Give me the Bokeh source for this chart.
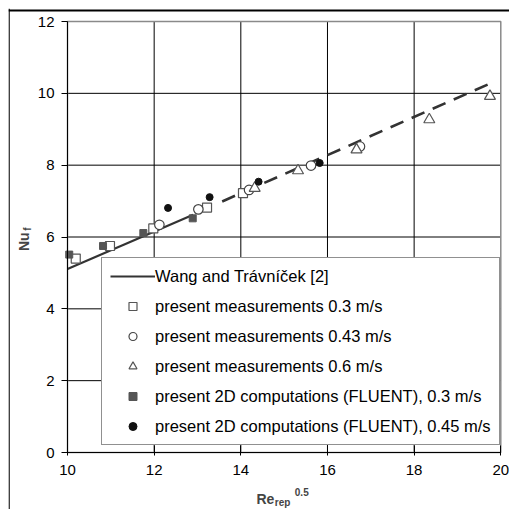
from bokeh.plotting import figure
from bokeh.models import Range1d, FixedTicker, Legend, LegendItem, Label, Span
from bokeh.embed import file_html
from bokeh.resources import INLINE

# axis ticks
x_ticks = [10, 12, 14, 16, 18, 20]
y_ticks = [0, 2, 4, 6, 8, 10, 12]

# Wang and Travnicek correlation (solid) and its extrapolation (dashed)
wang_x = [10.0, 12.9]
wang_y = [5.11, 6.62]
ext_x = [13.57, 19.82]
ext_y = [6.99, 10.31]

# present measurements 0.3 m/s
sq_x = [10.19, 10.98, 11.98, 13.22, 14.05]
sq_y = [5.40, 5.75, 6.24, 6.82, 7.22]
# present measurements 0.43 m/s
ci_x = [12.12, 13.02, 14.19, 15.62, 16.75]
ci_y = [6.34, 6.77, 7.31, 7.99, 8.52]
# present measurements 0.6 m/s
tr_x = [14.32, 15.32, 16.67, 18.35, 19.75]
tr_y = [7.36, 7.85, 8.43, 9.27, 9.92]
# present 2D computations (FLUENT), 0.3 m/s
fs_x = [10.04, 10.82, 11.75, 12.89]
fs_y = [5.51, 5.75, 6.11, 6.52]
# present 2D computations (FLUENT), 0.45 m/s
fc_x = [12.32, 13.28, 14.41, 15.82]
fc_y = [6.81, 7.11, 7.54, 8.06]

legend_labels = [
    "Wang and Trávníček [2]",
    "present measurements 0.3 m/s",
    "present measurements 0.43 m/s",
    "present measurements 0.6 m/s",
    "present 2D computations (FLUENT), 0.3 m/s",
    "present 2D computations (FLUENT), 0.45 m/s",
]

FONT = "Liberation Sans"

# the frame covers the whole canvas; the axes are pinned at x=10 / y=0
X0, X1 = 8.638, 20.201
Y0, Y1 = -1.587, 12.362
p = figure(width=501, height=501, output_backend="svg", toolbar_location=None,
           x_range=Range1d(X0, X1), y_range=Range1d(Y0, Y1),
           min_border=0, title=None)
p.styles = {"margin-left": "8px", "margin-top": "8px"}
p.background_fill_color = "white"
p.border_fill_color = "white"
p.outline_line_color = None
p.xgrid.visible = False
p.ygrid.visible = False

# outer picture frame (top and left edges of the canvas)
p.add_layout(Span(location=Y1 - 2.0 / 35.92, dimension="width",
                  line_color="black", line_width=2))
p.add_layout(Span(location=X0 + 0.6 / 43.33, dimension="height",
                  line_color="black", line_width=1.3))

xa = p.xaxis[0]
ya = p.yaxis[0]
for ax in (xa, ya):
    ax.axis_line_color = "black"
    ax.major_tick_line_color = "black"
    ax.minor_tick_line_color = None
    ax.major_label_text_font = FONT
    ax.major_label_text_font_size = "15px"
    ax.major_label_text_color = "black"
    ax.axis_label = None
xa.ticker = FixedTicker(ticks=x_ticks)
ya.ticker = FixedTicker(ticks=y_ticks)
xa.fixed_location = y_ticks[0]
ya.fixed_location = x_ticks[0]
xa.bounds = (x_ticks[0], x_ticks[-1])
ya.bounds = (y_ticks[0], y_ticks[-1])
xa.major_tick_in = 7
xa.major_tick_out = 3
xa.major_label_standoff = 9
ya.major_tick_in = 0
ya.major_tick_out = 6
ya.major_label_standoff = 7

# grid lines at the inner ticks, plot-area outline in grey
p.segment(x0=x_ticks[1:-1], y0=y_ticks[0], x1=x_ticks[1:-1], y1=y_ticks[-1],
          line_color="black", line_width=1)
p.segment(x0=x_ticks[0], y0=y_ticks[1:-1], x1=x_ticks[-1], y1=y_ticks[1:-1],
          line_color="black", line_width=1)
p.quad(left=x_ticks[0], right=x_ticks[-1], bottom=y_ticks[0], top=y_ticks[-1],
       fill_color=None, line_color="#8a8a8a", line_width=1.5)

r_wang = p.line(wang_x, wang_y, line_color="#333333", line_width=2.2)
p.line(ext_x, ext_y, line_color="#333333", line_width=2.6, line_dash="14 9")

r_sq = p.scatter(sq_x, sq_y, marker="square", size=9, fill_color="white",
                 line_color="#555555", line_width=1.2)
r_ci = p.scatter(ci_x, ci_y, marker="circle", size=9.5, fill_color="white",
                 line_color="#444444", line_width=1.2)
r_tr = p.scatter(tr_x, tr_y, marker="triangle", size=11, fill_color="white",
                 line_color="#555555", line_width=1.2)
r_fs = p.scatter(fs_x, fs_y, marker="square", size=7, fill_color="#555555",
                 line_color="#555555")
r_fc = p.scatter(fc_x, fc_y, marker="circle", size=7, fill_color="#111111",
                 line_color="#111111")

legend = Legend(items=[LegendItem(label=lab, renderers=[r])
                       for lab, r in zip(legend_labels,
                                         [r_wang, r_sq, r_ci, r_tr, r_fs, r_fc])],
                location=(93, 64))
legend.label_text_font = FONT
legend.label_text_font_size = "16.5px"
legend.label_text_color = "black"
legend.glyph_height = 20
legend.label_height = 20
legend.glyph_width = 45
legend.label_standoff = 0
legend.spacing = 10
legend.padding = 8
legend.margin = 0
legend.border_line_color = "#222222"
legend.border_line_width = 1
legend.background_fill_color = "white"
legend.background_fill_alpha = 1
p.add_layout(legend)

# axis titles built from plain text pieces
p.add_layout(Label(x=8.985, y=5.87, text="Nu", angle=1.5708, text_font=FONT,
                   text_font_size="14px", text_font_style="bold",
                   text_align="center", text_baseline="middle"))
p.add_layout(Label(x=9.07, y=6.22, text="f", angle=1.5708, text_font=FONT,
                   text_font_size="10px", text_font_style="bold",
                   text_align="center", text_baseline="middle"))
p.add_layout(Label(x=14.362, y=-1.295, text="Re", text_font=FONT,
                   text_font_size="14px", text_font_style="bold",
                   text_align="left", text_baseline="alphabetic"))
p.add_layout(Label(x=14.784, y=-1.392, text="rep", text_font=FONT,
                   text_font_size="10px", text_font_style="bold",
                   text_align="left", text_baseline="alphabetic"))
p.add_layout(Label(x=15.246, y=-1.105, text="0.5", text_font=FONT,
                   text_font_size="10px", text_font_style="bold",
                   text_align="left", text_baseline="alphabetic"))

open("out.html", "w").write(file_html(p, INLINE))
